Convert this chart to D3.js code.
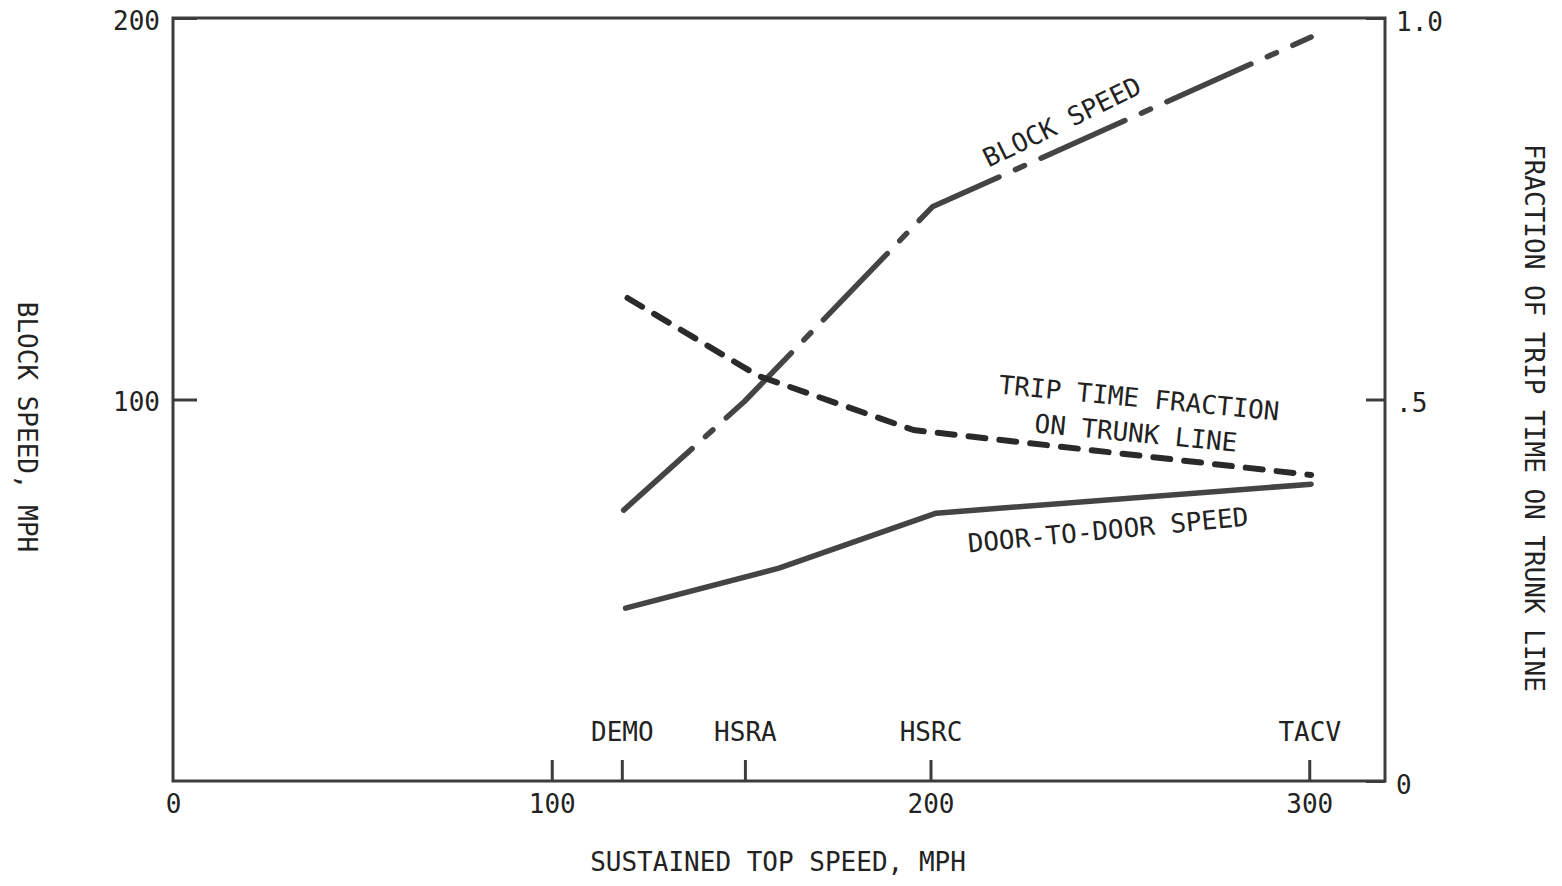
<!DOCTYPE html>
<html>
<head>
<meta charset="utf-8">
<script src="https://cdn.jsdelivr.net/npm/d3@7"></script>
<style>
  html, body { margin: 0; padding: 0; background: #fff; }
  svg { display: block; }
  text { font-family: "DejaVu Sans Mono", monospace; fill: #222; }
</style>
</head>
<body>
<svg id="chart" width="1562" height="886"></svg>
<script>
// ---- data ----
const xTickValues = [0, 100, 200, 300];
const categoryTicks = [100, 118.5, 151, 200, 300];
const categoryLabels = ["", "DEMO", "HSRA", "HSRC", "TACV"];
const leftTickValues = [100, 200];
const rightTickValues = [0, 0.5, 1];
const rightTickLabels = ["0", ".5", "1.0"];

const blockSpeedX = [119, 151, 200.5, 300.5];
const blockSpeedY = [71, 99.6, 150.5, 195];
const tripFractionX = [120, 154.5, 195.5, 300.5];
const tripFractionY = [0.633, 0.531, 0.46, 0.401];
const doorSpeedX = [119.5, 160, 201.5, 300.5];
const doorSpeedY = [45.3, 55.8, 70.2, 77.8];

// ---- layout ----
const svg = d3.select("#chart");
const L = 173, R = 1385, T = 18, B = 781;
const x = d3.scaleLinear().domain([0, 320]).range([L, R]);
const yL = d3.scaleLinear().domain([0, 200]).range([B, T]);
const yR = d3.scaleLinear().domain([0, 1]).range([B, T]);
const FS = 26;
const axisColor = "#3d3d3d";

// frame
svg.append("rect").attr("x", L).attr("y", T).attr("width", R - L).attr("height", B - T)
  .attr("fill", "none").attr("stroke", axisColor).attr("stroke-width", 3);

// bottom numeric labels
const gxb = svg.append("g").attr("transform", `translate(0,${B})`)
  .call(d3.axisBottom(x).tickValues(xTickValues).tickSize(0).tickPadding(14).tickFormat(d3.format("d")));
gxb.select(".domain").remove();

// category ticks (pointing up, labels above)
const gxt = svg.append("g").attr("transform", `translate(0,${B})`)
  .call(d3.axisTop(x).tickValues(categoryTicks).tickSize(21).tickPadding(19)
    .tickFormat((d, i) => categoryLabels[i]));
gxt.select(".domain").remove();

// left axis
const gl = svg.append("g").attr("transform", `translate(${L},0)`)
  .call(d3.axisLeft(yL).tickValues(leftTickValues).tickSizeInner(-24).tickSizeOuter(0).tickPadding(13)
    .tickFormat(d3.format("d")));
gl.select(".domain").remove();
gl.selectAll(".tick text").attr("transform", "translate(0,3)");

// right axis
const gr = svg.append("g").attr("transform", `translate(${R},0)`)
  .call(d3.axisRight(yR).tickValues(rightTickValues).tickSizeInner(-19).tickSizeOuter(0).tickPadding(11)
    .tickFormat((d, i) => rightTickLabels[i]));
gr.select(".domain").remove();
gr.selectAll(".tick text").attr("transform", "translate(0,4)");

svg.selectAll(".tick line").attr("stroke", axisColor).attr("stroke-width", 3);
svg.selectAll(".tick text").style("font-family", '"DejaVu Sans Mono", monospace')
  .attr("font-size", FS).attr("fill", "#222");

// lines
const lineL = d3.line().x(d => x(d[0])).y(d => yL(d[1]));
const lineR = d3.line().x(d => x(d[0])).y(d => yR(d[1]));

svg.append("path").datum(doorSpeedX.map((v, i) => [v, doorSpeedY[i]]))
  .attr("d", lineL).attr("fill", "none").attr("stroke", "#444").attr("stroke-width", 5.5)
  .attr("stroke-linecap", "round").attr("stroke-linejoin", "round");

svg.append("path").datum(blockSpeedX.map((v, i) => [v, blockSpeedY[i]]))
  .attr("d", lineL).attr("fill", "none").attr("stroke", "#444").attr("stroke-width", 5.5)
  .attr("stroke-linecap", "round").attr("stroke-linejoin", "round")
  .attr("stroke-dasharray", "92 18 10 18");

svg.append("path").datum(tripFractionX.map((v, i) => [v, tripFractionY[i]]))
  .attr("d", lineR).attr("fill", "none").attr("stroke", "#2a2a2a").attr("stroke-width", 6)
  .attr("stroke-linecap", "round").attr("stroke-linejoin", "round")
  .attr("stroke-dasharray", "17 14");

// annotations
function label(txt, cx, cy, rot) {
  svg.append("text").attr("transform", `translate(${cx},${cy}) rotate(${rot})`)
    .attr("text-anchor", "middle").attr("dominant-baseline", "central")
    .attr("font-size", FS).text(txt);
}
label("BLOCK SPEED", 1062, 122, -26);
label("TRIP TIME FRACTION", 1139, 398, 5.5);
label("ON TRUNK LINE", 1136, 433, 5.5);
label("DOOR-TO-DOOR SPEED", 1108, 530, -5.5);

// axis titles
svg.append("text").attr("x", 778).attr("y", 862).attr("text-anchor", "middle")
  .attr("dominant-baseline", "central").attr("font-size", FS).text("SUSTAINED TOP SPEED, MPH");
svg.append("text").attr("transform", "translate(27,427) rotate(90)").attr("text-anchor", "middle")
  .attr("dominant-baseline", "central").attr("font-size", FS).text("BLOCK SPEED, MPH");
svg.append("text").attr("transform", "translate(1534,418) rotate(90)").attr("text-anchor", "middle")
  .attr("dominant-baseline", "central").attr("font-size", FS).text("FRACTION OF TRIP TIME ON TRUNK LINE");
</script>
</body>
</html>
